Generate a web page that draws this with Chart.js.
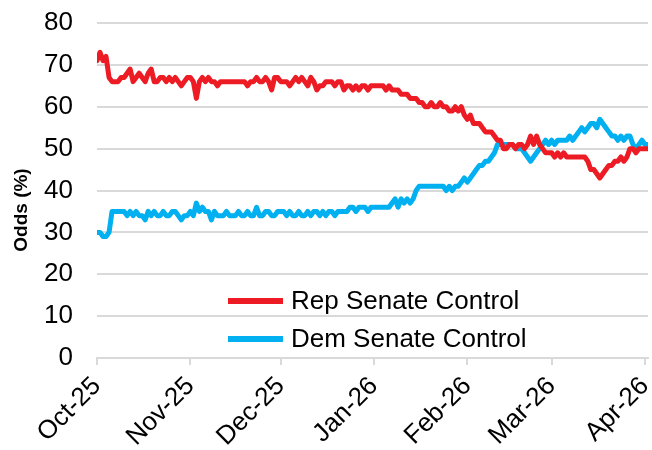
<!DOCTYPE html>
<html>
<head>
<meta charset="utf-8">
<script src="https://cdn.jsdelivr.net/npm/chart.js@4.4.1/dist/chart.umd.min.js"></script>
<style>
  html, body { margin: 0; padding: 0; background: #ffffff; }
  #wrap { width: 652px; height: 450px; }
</style>
</head>
<body>
<div id="wrap"><canvas id="chart" width="652" height="450"></canvas></div>
<script>
// Month tick labels and their day offsets from 1 Oct 2025
const monthLabels = ['Oct-25', 'Nov-25', 'Dec-25', 'Jan-26', 'Feb-26', 'Mar-26', 'Apr-26'];
const monthStartDay = [0, 31, 61, 92, 123, 151, 182];

// Daily odds (%), one value per day starting 1 Oct 2025
const repSenateControl = [
  71, 73, 71, 72, 67, 66, 66, 66, 67, 67,
  68, 69, 66, 67, 68, 67, 66, 68, 69, 66,
  66, 67, 67, 66, 67, 66, 67, 66, 65, 66,
  67, 67, 66, 62, 66, 67, 66, 67, 66, 66,
  65, 66, 66, 66, 66, 66, 66, 66, 66, 66,
  65, 66, 66, 67, 66, 66, 67, 66, 64, 67,
  67, 66, 66, 66, 65, 66, 67, 66, 67, 66,
  65, 67, 66, 64, 65, 65, 66, 66, 66, 65,
  66, 66, 64, 65, 65, 64, 65, 64, 65, 65,
  64, 65, 65, 65, 65, 65, 64, 65, 64, 64,
  64, 63, 63, 63, 62, 62, 62, 61, 61, 60,
  60, 61, 60, 60, 61, 60, 60, 59, 59, 60,
  59, 60, 58, 57, 58, 56, 56, 56, 55, 54,
  54, 54, 53, 52, 52, 50, 50, 51, 51, 50,
  51, 51, 50, 51, 53, 51, 53, 51, 50, 49,
  49, 49, 48, 49, 48, 49, 48, 48, 48, 48,
  48, 48, 48, 47, 45, 45, 44, 43, 44, 45,
  46, 46, 47, 47, 48, 47, 48, 50, 50, 49,
  50, 50, 50, 50
];
const demSenateControl = [
  30, 30, 29, 29, 30, 35, 35, 35, 35, 35,
  34, 35, 34, 35, 34, 34, 33, 35, 34, 35,
  34, 34, 35, 34, 34, 35, 35, 34, 33, 34,
  34, 35, 34, 37, 35, 36, 35, 35, 33, 35,
  34, 34, 34, 35, 34, 34, 34, 35, 34, 34,
  35, 34, 34, 36, 34, 34, 35, 35, 34, 34,
  35, 35, 35, 34, 35, 34, 34, 35, 34, 34,
  35, 34, 35, 35, 34, 35, 34, 35, 35, 34,
  35, 35, 35, 35, 36, 36, 35, 36, 36, 36,
  35, 36, 36, 36, 36, 36, 36, 36, 37, 38,
  36, 38, 37, 38, 37, 38, 40, 41, 41, 41,
  41, 41, 41, 41, 41, 41, 40, 41, 40, 41,
  41, 42, 43, 42, 43, 44, 45, 46, 46, 47,
  47, 48, 49, 51, 51, 51, 51, 51, 51, 50,
  50, 50, 49, 48, 47, 48, 49, 50, 51, 52,
  51, 52, 51, 52, 52, 52, 52, 53, 52, 53,
  54, 55, 54, 55, 56, 56, 55, 57, 56, 55,
  54, 53, 53, 52, 53, 52, 53, 53, 51, 50,
  51, 52, 51, 51
];

const yAxisTitle = 'Odds (%)';

const toPoints = arr => arr.map((v, i) => ({ x: i, y: v }));

const FONT = '"Liberation Sans", Arial, sans-serif';

// Legend drawn inside the plot area, lower middle
const insideLegend = {
  id: 'insideLegend',
  afterDatasetsDraw(chart, args, opts) {
    const { ctx, chartArea } = chart;
    ctx.save();
    ctx.font = '26px ' + FONT;
    ctx.textBaseline = 'middle';
    ctx.textAlign = 'left';
    chart.data.datasets.forEach((ds, i) => {
      const y = chartArea.top + opts.top + i * opts.rowGap;
      const x0 = chartArea.left + opts.left;
      ctx.strokeStyle = ds.borderColor;
      ctx.lineWidth = ds.borderWidth + 1;
      ctx.lineCap = 'butt';
      ctx.beginPath();
      ctx.moveTo(x0, y);
      ctx.lineTo(x0 + opts.swatch, y);
      ctx.stroke();
      ctx.fillStyle = '#000000';
      ctx.fillText(ds.label, x0 + opts.swatch + opts.gap, y + 1);
    });
    ctx.restore();
  }
};

// Vertical axis title, centred on the axis block including its labels
const sideTitle = {
  id: 'sideTitle',
  afterDraw(chart, args, opts) {
    const { ctx, chartArea } = chart;
    ctx.save();
    ctx.translate(opts.x, chartArea.top + opts.centerOffset);
    ctx.rotate(-Math.PI / 2);
    ctx.font = 'bold 19px ' + FONT;
    ctx.fillStyle = '#000000';
    ctx.textAlign = 'center';
    ctx.textBaseline = 'middle';
    ctx.fillText(opts.text, 0, 0);
    ctx.restore();
  }
};

new Chart(document.getElementById('chart'), {
  type: 'line',
  data: {
    datasets: [
      {
        label: 'Rep Senate Control',
        data: toPoints(repSenateControl),
        borderColor: '#ED1C24',
        backgroundColor: '#ED1C24',
        borderWidth: 5,
        pointRadius: 0,
        tension: 0,
        borderJoinStyle: 'round',
        borderCapStyle: 'round'
      },
      {
        label: 'Dem Senate Control',
        data: toPoints(demSenateControl),
        borderColor: '#00B0F0',
        backgroundColor: '#00B0F0',
        borderWidth: 5,
        pointRadius: 0,
        tension: 0,
        borderJoinStyle: 'round',
        borderCapStyle: 'round'
      }
    ]
  },
  options: {
    responsive: false,
    animation: false,
    layout: { padding: { top: 23, right: 4, left: 4, bottom: 0 } },
    plugins: {
      legend: { display: false },
      tooltip: { enabled: false },
      insideLegend: { left: 131, top: 278, rowGap: 38, swatch: 55, gap: 8 },
      sideTitle: { text: yAxisTitle, x: 22, centerOffset: 187 }
    },
    scales: {
      x: {
        type: 'linear',
        min: 0,
        max: repSenateControl.length - 1,
        afterBuildTicks: scale => {
          scale.ticks = monthStartDay.map(v => ({ value: v }));
        },
        afterFit: scale => {
          scale.height = 92;
          scale.paddingLeft = 0;
          scale.paddingRight = 0;
        },
        ticks: {
          autoSkip: false,
          maxRotation: 45,
          minRotation: 45,
          padding: 6,
          color: '#000000',
          font: { family: FONT, size: 26 },
          callback: value => monthLabels[monthStartDay.indexOf(value)]
        },
        grid: {
          drawOnChartArea: false,
          drawTicks: true,
          tickLength: 7,
          color: '#D9D9D9',
          lineWidth: 2
        },
        border: { display: true, color: '#D9D9D9', width: 2 }
      },
      y: {
        min: 0,
        max: 80,
        afterFit: scale => {
          scale.width = 93;
          scale.paddingTop = 0;
          scale.paddingBottom = 0;
        },
        ticks: {
          stepSize: 10,
          padding: 24,
          color: '#000000',
          font: { family: FONT, size: 26 }
        },
        grid: {
          color: '#D9D9D9',
          lineWidth: 2,
          drawTicks: false
        },
        border: { display: false },
        title: { display: false }
      }
    }
  },
  plugins: [insideLegend, sideTitle]
});
</script>
</body>
</html>
